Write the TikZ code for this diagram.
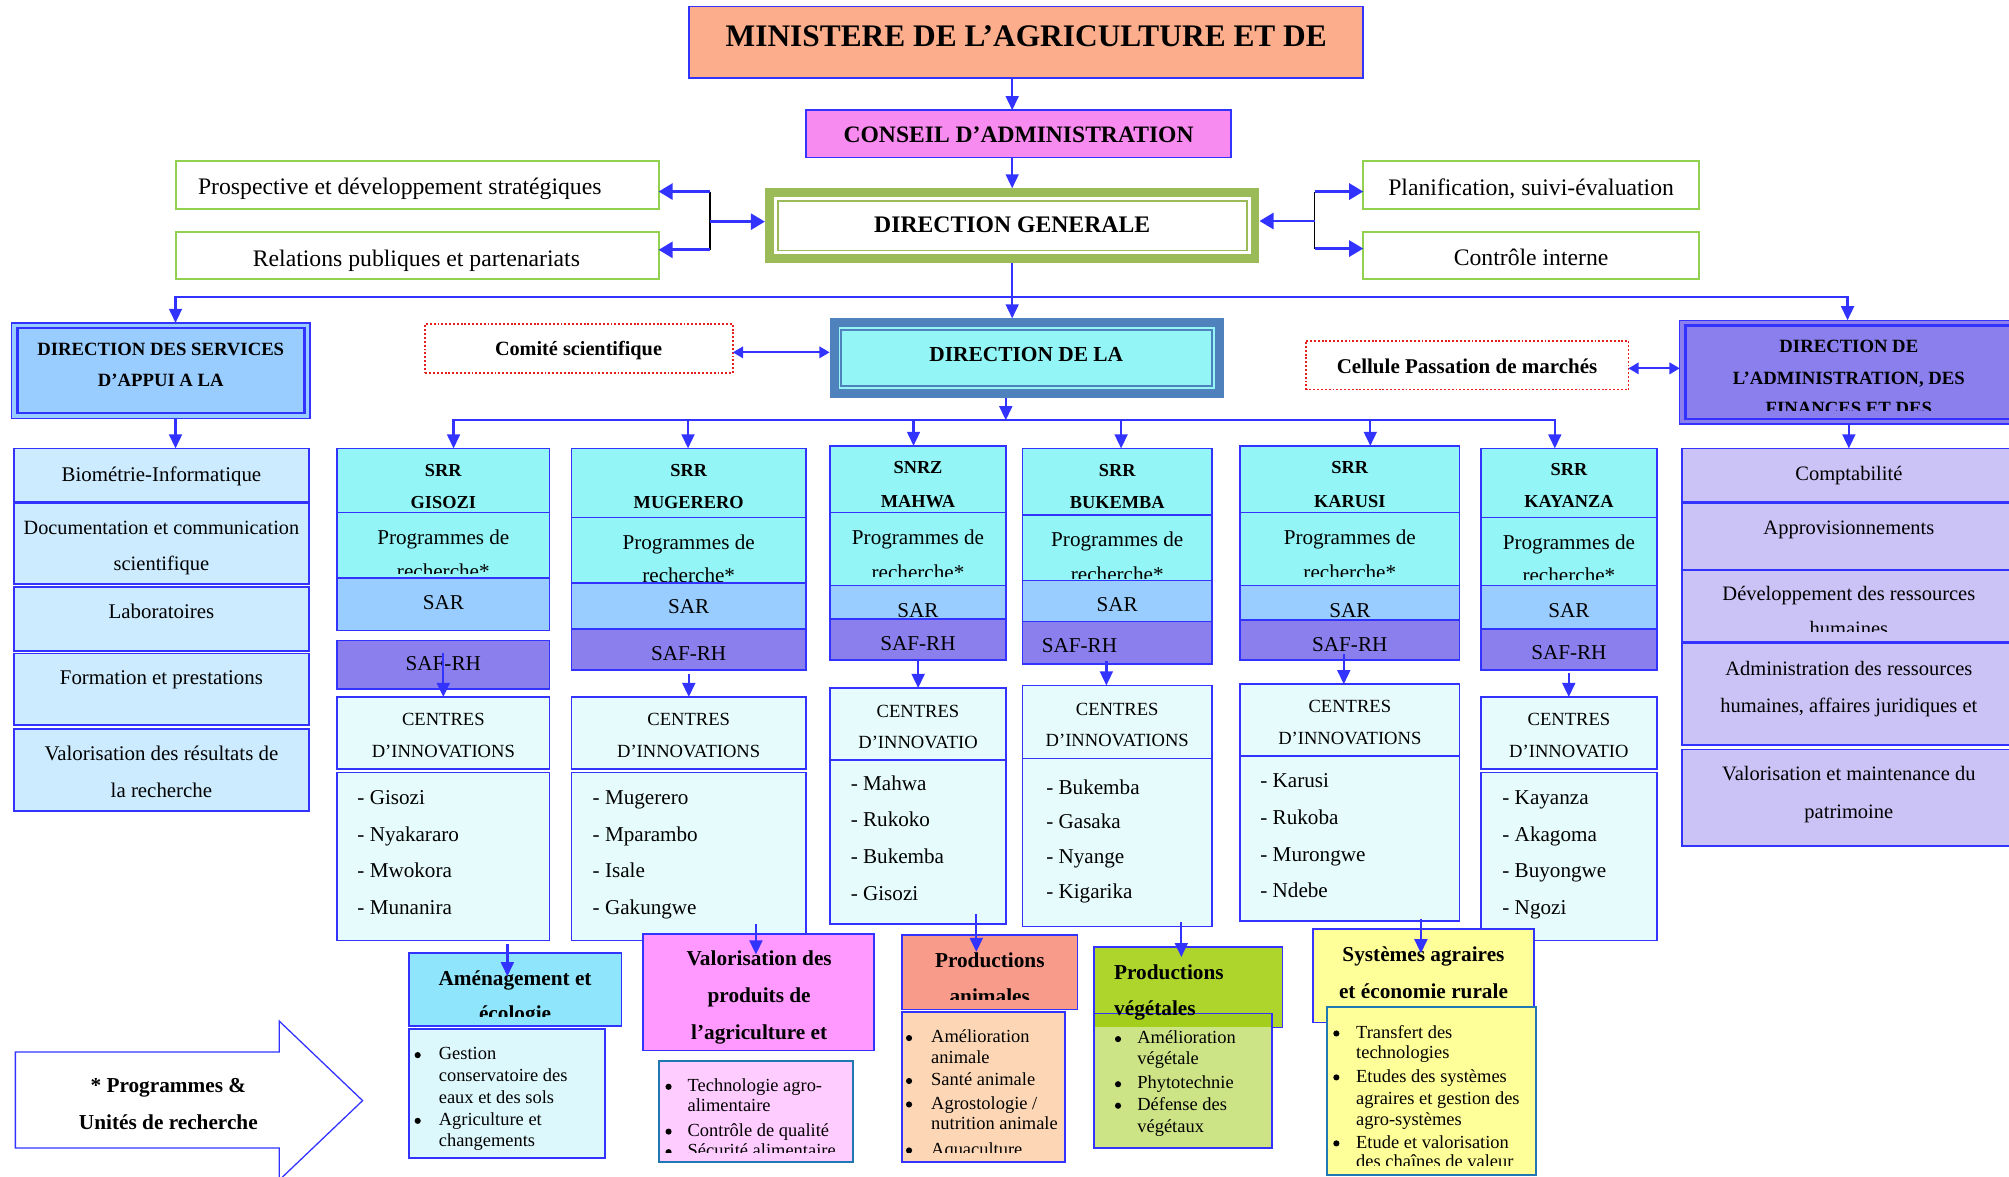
\documentclass[tikz,border=0pt]{standalone}
\usepackage{fontspec}
\setmainfont{Liberation Serif}
\usetikzlibrary{arrows.meta}
\definecolor{bl}{RGB}{51,51,255}
\definecolor{minist}{RGB}{252,174,140}
\definecolor{conseil}{RGB}{248,139,240}
\definecolor{olivec}{RGB}{155,187,89}
\definecolor{lgreen}{RGB}{146,208,80}
\definecolor{dsac}{RGB}{153,204,255}
\definecolor{cyanf}{RGB}{147,245,245}
\definecolor{steel}{RGB}{79,129,189}
\definecolor{purp}{RGB}{139,127,238}
\definecolor{sarc}{RGB}{153,204,255}
\definecolor{centc}{RGB}{230,251,251}
\definecolor{leftc}{RGB}{204,235,255}
\definecolor{dafsub}{RGB}{203,195,245}
\definecolor{amh}{RGB}{143,229,251}
\definecolor{aml}{RGB}{221,248,253}
\definecolor{valh}{RGB}{255,153,255}
\definecolor{vall}{RGB}{255,204,255}
\definecolor{tealb}{RGB}{31,120,180}
\definecolor{pah}{RGB}{249,155,139}
\definecolor{pal}{RGB}{253,215,181}
\definecolor{pvh}{RGB}{173,213,43}
\definecolor{pvl}{RGB}{205,228,134}
\definecolor{pvo}{RGB}{163,206,28}
\definecolor{syc}{RGB}{255,255,153}
\definecolor{redd}{RGB}{230,30,30}
\newcounter{tc}
\newcommand\mybx[6]{\node[inner sep=0pt,outer sep=0pt,#6,minimum width={(#4)-(#2)},minimum height={(#5)-(#3)}] (#1) at ({(#2+#4)/2},{(#3+#5)/2}) {};}
\newcommand\mytx[5][]{\stepcounter{tc}\node[txt,font=\fontsize{#4}{#4}\selectfont,#1] (t\arabic{tc}) at ({#2},{#3+0.34*#4}) {#5};}
\newcommand\mybul[2]{\stepcounter{tc}\node[circle,fill=black,inner sep=0pt,minimum size=4.8pt] (t\arabic{tc}) at ({#1},{#2+1.2}) {};}
\newcommand\mycl[4]{\clip (#1,#2) rectangle (#3,#4);}
\tikzset{
 box/.style={draw=bl,line width=1.3pt},
 sbox/.style={draw=lgreen,line width=1.6pt,fill=white},
 dotbox/.style={draw=redd,line width=1.4pt,dash pattern=on 1.5pt off 1.5pt,fill=white},
 txt/.style={anchor=base,inner sep=0pt,outer sep=0pt},
 arr/.style={draw=bl,line width=1.8pt,-{Triangle[length=11pt,width=10pt]}},
 sarr/.style={draw=bl,line width=2.2pt,-{Triangle[length=11pt,width=12.5pt]}},
 darr/.style={draw=bl,line width=1.6pt,{Triangle[length=8pt,width=9pt]}-{Triangle[length=8pt,width=9pt]}},
 jline/.style={draw=black,line width=1.2pt},
}
\begin{document}
\begin{tikzpicture}[x=1pt,y=-1pt]
\path[use as bounding box] (0,0) rectangle (1568,918);
\clip (0,0) rectangle (1568,918);
\fill[white] (0,0) rectangle (1568,918);

% ---------- top ----------
\mybx{min}{538}{5}{1064}{61}{box,fill=minist}
\mytx{801}{28}{24.5}{\bfseries MINISTERE DE L’AGRICULTURE ET DE}
\mybx{ca}{629}{86}{961}{123}{box,fill=conseil}
\mytx{795}{105}{18.4}{\bfseries CONSEIL D’ADMINISTRATION}
\mybx{dg}{600.5}{150.5}{979.5}{201.5}{draw=olivec,line width=7pt,fill=white,outer sep=3.5pt}
\mybx{dgi}{607}{157}{973}{195.5}{draw=olivec,line width=1.3pt}
\mytx{790}{175.5}{18.5}{\bfseries DIRECTION GENERALE}
\mybx{pro}{137}{126}{514}{163}{sbox}
\mybx{rel}{137}{181}{514}{218}{sbox}
\mybx{pla}{1064}{126}{1326}{163}{sbox}
\mybx{cti}{1064}{181}{1326}{218}{sbox}
\mytx{312}{145.5}{18.5}{Prospective et développement stratégiques}
\mytx{325}{201.5}{18.5}{Relations publiques et partenariats}
\mytx{1195}{146.5}{18.5}{Planification, suivi-évaluation}
\mytx{1195}{201}{18.5}{Contrôle interne}

% ---------- second level ----------
\mybx{dsa}{9}{252}{242}{326.5}{draw=bl,line width=1pt,fill=dsac}
\mybx{dsai}{13.5}{256}{237.5}{322.5}{draw=bl,line width=2pt}
\mytx{125.5}{272.5}{14.6}{\bfseries DIRECTION DES SERVICES}
\mytx{125.5}{297}{14.6}{\bfseries D’APPUI A LA}
\mybx{com}{332}{253}{572}{291}{dotbox}
\mytx{451.5}{272}{15.8}{\bfseries Comité scientifique}
\mybx{dra}{651}{252}{951.5}{307}{draw=steel,line width=7pt,fill=cyanf,outer sep=3.5pt}
\mybx{drai}{656.5}{257.5}{946}{301.5}{draw=steel,line width=1.5pt}
\mytx{801}{276.5}{16.7}{\bfseries DIRECTION DE LA}
\mybx{cel}{1019}{266}{1271}{304}{dotbox}
\mytx{1145}{286}{16.4}{\bfseries Cellule Passation de marchés}
\mybx{daf}{1311}{250}{1590}{331}{draw=bl,line width=1pt,fill=purp}
\mybx{dafi}{1315.5}{254}{1590}{327}{draw=bl,line width=2pt}
\mytx{1443}{270}{14.6}{\bfseries DIRECTION DE}
\mytx{1443}{295}{14.6}{\bfseries L’ADMINISTRATION, DES}
\begin{scope}\mycl{1316}{255}{1568}{320}\mytx{1443}{318.4}{14.6}{\bfseries FINANCES ET DES}\end{scope}

% ---------- left column ----------
\mybx{bio}{11}{350}{241}{392}{box,fill=leftc}
\mybx{doc}{11}{393}{241}{456}{box,fill=leftc}
\mybx{lab}{11}{458}{241}{508}{box,fill=leftc}
\mybx{for}{11}{510}{241}{566}{box,fill=leftc}
\mybx{vlr}{11}{569}{241}{633}{box,fill=leftc}
\mytx{126}{370}{16.3}{Biométrie-Informatique}
\mytx{126}{412}{15.8}{Documentation et communication}
\mytx{126}{440}{16}{scientifique}
\mytx{126}{477.5}{16.3}{Laboratoires}
\mytx{126}{529}{16.3}{Formation et prestations}
\mytx{126}{588}{16.3}{Valorisation des résultats de}
\mytx{126}{616.5}{16.3}{la recherche}

% ---------- DAF column ----------
\mybx{cpt}{1313}{350}{1590}{392}{box,fill=dafsub}
\mybx{app}{1313}{393}{1590}{445}{box,fill=dafsub}
\mybx{dev}{1313}{445}{1590}{501}{box,fill=dafsub}
\mybx{adm}{1313}{502}{1590}{581.5}{box,fill=dafsub}
\mybx{vmp}{1313}{585}{1590}{660.5}{box,fill=dafsub}
\mytx{1443}{369.5}{16}{Comptabilité}
\mytx{1443}{412}{16}{Approvisionnements}
\mytx{1443}{463.3}{16}{Développement des ressources}
\begin{scope}\mycl{1314}{446}{1568}{492.5}\mytx{1443}{490.3}{16}{humaines}\end{scope}
\mytx{1443}{522}{16}{Administration des ressources}
\mytx{1443}{550.7}{16}{humaines, affaires juridiques et}
\mytx{1443}{604}{16}{Valorisation et maintenance du}
\mytx{1443}{633}{16}{patrimoine}

% ---------- SRR GISOZI ----------
\mybx{gish}{263}{350}{429}{400}{box,fill=cyanf}
\mybx{gisp}{263}{400}{429}{451}{box,fill=cyanf}
\begin{scope}\mycl{264}{401}{428}{447.6}\mytx{346}{446.2}{16.5}{recherche*}\end{scope}
\mybx{giss}{263}{451}{429}{492}{box,fill=sarc}
\mybx{gisf}{263}{500}{429}{538}{box,fill=purp}
\mybx{gisc}{263}{544}{429}{600}{box,fill=centc}
\mybx{gisl}{263}{603}{429}{734}{box,fill=centc}
\mytx{346}{367}{14.3}{\bfseries SRR}
\mytx{346}{392}{14.3}{\bfseries GISOZI}
\mytx{346}{419}{16.5}{Programmes de}
\mytx{346}{470}{16.5}{SAR}
\mytx{346}{518}{16.5}{SAF-RH}
\mytx{346}{561}{14.5}{CENTRES}
\mytx{346}{586}{14.5}{D’INNOVATIONS}
\mytx[anchor=base west]{279}{622}{16.5}{- Gisozi}
\mytx[anchor=base west]{279}{651}{16.5}{- Nyakararo}
\mytx[anchor=base west]{279}{679}{16.5}{- Mwokora}
\mytx[anchor=base west]{279}{708}{16.5}{- Munanira}

% ---------- SRR MUGERERO ----------
\mybx{mugh}{446}{350}{629}{404}{box,fill=cyanf}
\mybx{mugp}{446}{404}{629}{455}{box,fill=cyanf}
\begin{scope}\mycl{447}{405}{628}{453.5}\mytx{537.5}{449.4}{16.5}{recherche*}\end{scope}
\mybx{mugs}{446}{455}{629}{491}{box,fill=sarc}
\mybx{mugf}{446}{491}{629}{523}{box,fill=purp}
\mybx{mugc}{446}{544}{629}{600}{box,fill=centc}
\mybx{mugl}{446}{603}{629}{734}{box,fill=centc}
\mytx{537.5}{367}{14.3}{\bfseries SRR}
\mytx{537.5}{392}{14.3}{\bfseries MUGERERO}
\mytx{537.5}{423}{16.5}{Programmes de}
\mytx{537.5}{473.6}{16.5}{SAR}
\mytx{537.5}{510}{16.5}{SAF-RH}
\mytx{537.5}{561}{14.5}{CENTRES}
\mytx{537.5}{586}{14.5}{D’INNOVATIONS}
\mytx[anchor=base west]{462.6}{622}{16.5}{- Mugerero}
\mytx[anchor=base west]{462.6}{651}{16.5}{- Mparambo}
\mytx[anchor=base west]{462.6}{679}{16.5}{- Isale}
\mytx[anchor=base west]{462.6}{708}{16.5}{- Gakungwe}

% ---------- SNRZ MAHWA ----------
\mybx{mahh}{648}{348}{785}{400}{box,fill=cyanf}
\mybx{mahp}{648}{400}{785}{457}{box,fill=cyanf}
\begin{scope}\mycl{649}{401}{784}{450}\mytx{716.5}{446.8}{16.5}{recherche*}\end{scope}
\mybx{mahs}{648}{457}{785}{483}{box,fill=sarc}
\mybx{mahf}{648}{483}{785}{515}{box,fill=purp}
\mybx{mahc}{648}{537}{785}{593}{box,fill=centc}
\mybx{mahl}{648}{593}{785}{721}{box,fill=centc}
\mytx{716.5}{365}{14.3}{\bfseries SNRZ}
\mytx{716.5}{391}{14.3}{\bfseries MAHWA}
\mytx{716.5}{419}{16.5}{Programmes de}
\mytx{716.5}{476}{16.5}{SAR}
\mytx{716.5}{502}{16.5}{SAF-RH}
\mytx{716.5}{555}{14.5}{CENTRES}
\mytx{716.5}{579}{14.5}{D’INNOVATIO}
\mytx[anchor=base west]{664}{611}{16.5}{- Mahwa}
\mytx[anchor=base west]{664}{639.6}{16.5}{- Rukoko}
\mytx[anchor=base west]{664}{668.7}{16.5}{- Bukemba}
\mytx[anchor=base west]{664}{697}{16.5}{- Gisozi}

% ---------- SRR BUKEMBA ----------
\mybx{bukh}{798}{350}{946}{402}{box,fill=cyanf}
\mybx{bukp}{798}{402}{946}{453}{box,fill=cyanf}
\begin{scope}\mycl{799}{403}{945}{451.5}\mytx{872}{448.1}{16.5}{recherche*}\end{scope}
\mybx{buks}{798}{453}{946}{485}{box,fill=sarc}
\mybx{bukf}{798}{485}{946}{518}{box,fill=purp}
\mybx{bukc}{798}{535}{946}{592}{box,fill=centc}
\mybx{bukl}{798}{592}{946}{723}{box,fill=centc}
\mytx{872}{367.4}{14.3}{\bfseries SRR}
\mytx{872}{392.4}{14.3}{\bfseries BUKEMBA}
\mytx{872}{421}{16.5}{Programmes de}
\mytx{872}{472}{16.5}{SAR}
\mytx{842.5}{503.5}{16.5}{SAF-RH}
\mytx{872}{553.5}{14.5}{CENTRES}
\mytx{872}{578}{14.5}{D’INNOVATIONS}
\mytx[anchor=base west]{816.6}{614.5}{16.5}{- Bukemba}
\mytx[anchor=base west]{816.6}{641.4}{16.5}{- Gasaka}
\mytx[anchor=base west]{816.6}{668.7}{16.5}{- Nyange}
\mytx[anchor=base west]{816.6}{696}{16.5}{- Kigarika}

% ---------- SRR KARUSI ----------
\mybx{karh}{968}{348}{1139}{400}{box,fill=cyanf}
\mybx{karp}{968}{400}{1139}{457}{box,fill=cyanf}
\begin{scope}\mycl{969}{401}{1138}{450}\mytx{1053.5}{446.8}{16.5}{recherche*}\end{scope}
\mybx{kars}{968}{457}{1139}{484}{box,fill=sarc}
\mybx{karf}{968}{484}{1139}{515}{box,fill=purp}
\mybx{karc}{968}{534}{1139}{590}{box,fill=centc}
\mybx{karl}{968}{590}{1139}{719}{box,fill=centc}
\mytx{1053.5}{365}{14.3}{\bfseries SRR}
\mytx{1053.5}{391}{14.3}{\bfseries KARUSI}
\mytx{1053.5}{419}{16.5}{Programmes de}
\mytx{1053.5}{476}{16.5}{SAR}
\mytx{1053.5}{502.5}{16.5}{SAF-RH}
\mytx{1053.5}{551}{14.5}{CENTRES}
\mytx{1053.5}{576}{14.5}{D’INNOVATIONS}
\mytx[anchor=base west]{983.7}{609}{16.5}{- Karusi}
\mytx[anchor=base west]{983.7}{638}{16.5}{- Rukoba}
\mytx[anchor=base west]{983.7}{666.7}{16.5}{- Murongwe}
\mytx[anchor=base west]{983.7}{695}{16.5}{- Ndebe}

% ---------- SRR KAYANZA ----------
\mybx{kayh}{1156}{350}{1293}{404}{box,fill=cyanf}
\mybx{kayp}{1156}{404}{1293}{457}{box,fill=cyanf}
\begin{scope}\mycl{1157}{405}{1292}{452.5}\mytx{1224.5}{449.4}{16.5}{recherche*}\end{scope}
\mybx{kays}{1156}{457}{1293}{491}{box,fill=sarc}
\mybx{kayf}{1156}{491}{1293}{523}{box,fill=purp}
\mybx{kayc}{1156}{544}{1293}{600}{box,fill=centc}
\mybx{kayl}{1156}{603}{1293}{734}{box,fill=centc}
\mytx{1224.5}{366}{14.3}{\bfseries SRR}
\mytx{1224.5}{391.6}{14.3}{\bfseries KAYANZA}
\mytx{1224.5}{423}{16.5}{Programmes de}
\mytx{1224.5}{476}{16.5}{SAR}
\mytx{1224.5}{509.5}{16.5}{SAF-RH}
\mytx{1224.5}{561}{14.5}{CENTRES}
\mytx{1224.5}{586}{14.5}{D’INNOVATIO}
\mytx[anchor=base west]{1172.6}{622}{16.5}{- Kayanza}
\mytx[anchor=base west]{1172.6}{651}{16.5}{- Akagoma}
\mytx[anchor=base west]{1172.6}{679}{16.5}{- Buyongwe}
\mytx[anchor=base west]{1172.6}{708}{16.5}{- Ngozi}

% ---------- programmes ----------
% Amenagement
\mybx{amhd}{319}{744}{485}{801}{box,fill=amh}
\mytx{402}{763.7}{16.6}{\bfseries Aménagement et}
\begin{scope}\mycl{320}{745}{484}{793}\mytx{402}{790.9}{16.6}{\bfseries écologie}\end{scope}
\mybx{amls}{319}{803}{472}{904}{box,fill=aml}
\mybul{326}{822.3}
\mytx[anchor=base west]{342.5}{822.3}{14.4}{Gestion}
\mytx[anchor=base west]{342.5}{839}{14.4}{conservatoire des}
\mytx[anchor=base west]{342.5}{856}{14.4}{eaux et des sols}
\mybul{326}{873.6}
\mytx[anchor=base west]{342.5}{873.6}{14.4}{Agriculture et}
\mytx[anchor=base west]{342.5}{890}{14.4}{changements}

% Valorisation
\mybx{vahd}{502}{729}{682}{820}{box,fill=valh}
\mytx{592.5}{748}{16.6}{\bfseries Valorisation des}
\mytx{592.5}{776.7}{16.6}{\bfseries produits de}
\mytx{592.5}{805.4}{16.6}{\bfseries l’agriculture et}
\mybx{vals}{514}{828}{666}{907}{draw=tealb,line width=1.5pt,fill=vall}
\begin{scope}\mycl{515}{829}{665}{899.6}
\mybul{521.8}{847}
\mytx[anchor=base west]{536.7}{847}{14.4}{Technologie agro-}
\mytx[anchor=base west]{536.7}{862.6}{14.4}{alimentaire}
\mybul{521.8}{882}
\mytx[anchor=base west]{536.7}{882}{14.4}{Contrôle de qualité}
\mybul{521.8}{898}
\mytx[anchor=base west]{536.7}{898}{14.4}{Sécurité alimentaire}
\end{scope}

% Productions animales
\mybx{pahd}{704}{730}{841}{788}{box,fill=pah}
\mytx{772.5}{749.4}{16.6}{\bfseries Productions}
\begin{scope}\mycl{705}{731}{840}{780}\mytx{772.5}{777.3}{16.6}{\bfseries animales}\end{scope}
\mybx{pals}{704}{790}{831}{907}{box,fill=pal}
\begin{scope}\mycl{705}{791}{830}{899.5}
\mybul{709.5}{809}
\mytx[anchor=base west]{726.8}{809}{14.4}{Amélioration}
\mytx[anchor=base west]{726.8}{825}{14.4}{animale}
\mybul{709.5}{842.5}
\mytx[anchor=base west]{726.8}{842.5}{14.4}{Santé animale}
\mybul{709.5}{860.8}
\mytx[anchor=base west]{726.8}{860.8}{14.4}{Agrostologie /}
\mytx[anchor=base west]{726.8}{877}{14.4}{nutrition animale}
\mybul{709.5}{896.7}
\mytx[anchor=base west]{726.8}{896.7}{14.4}{Aquaculture}
\end{scope}

% Productions vegetales
\mybx{pvhd}{854}{739}{1001}{802}{box,fill=pvh}
\mybx{pvls}{854}{791}{993}{896}{box,fill=pvl}
\fill[pvo] (854.7,791.7) rectangle (992.3,801.3);
\draw[bl,line width=1.3pt] (854,791) -- (993,791);
\draw[bl,line width=1.3pt] (993,802) -- (1001,802);
\mytx[anchor=base west]{869.6}{758.5}{16.6}{\bfseries Productions}
\mytx[anchor=base west]{869.6}{787}{16.6}{\bfseries végétales}
\mybul{872.6}{809.8}
\mytx[anchor=base west]{887.7}{809.8}{14.4}{Amélioration}
\mytx[anchor=base west]{887.7}{826}{14.4}{végétale}
\mybul{872.6}{845}
\mytx[anchor=base west]{887.7}{845}{14.4}{Phytotechnie}
\mybul{872.6}{861.8}
\mytx[anchor=base west]{887.7}{861.8}{14.4}{Défense des}
\mytx[anchor=base west]{887.7}{878.7}{14.4}{végétaux}

% Systemes agraires
\mybx{syhd}{1025}{725}{1197}{798}{box,fill=syc}
\mytx{1111}{744.7}{16.6}{\bfseries Systèmes agraires}
\mytx{1111}{773.4}{16.6}{\bfseries et économie rurale}
\mybx{syls}{1036}{786}{1199}{917}{draw=tealb,line width=1.5pt,fill=syc}
\begin{scope}\mycl{1037}{787}{1198}{909.5}
\mybul{1043}{805.4}
\mytx[anchor=base west]{1058.5}{805.4}{14.4}{Transfert des}
\mytx[anchor=base west]{1058.5}{821.5}{14.4}{technologies}
\mybul{1043}{839.7}
\mytx[anchor=base west]{1058.5}{839.7}{14.4}{Etudes des systèmes}
\mytx[anchor=base west]{1058.5}{857}{14.4}{agraires et gestion des}
\mytx[anchor=base west]{1058.5}{873.6}{14.4}{agro-systèmes}
\mybul{1043}{891.2}
\mytx[anchor=base west]{1058.5}{891.2}{14.4}{Etude et valorisation}
\mytx[anchor=base west]{1058.5}{906.6}{14.4}{des chaînes de valeur}
\end{scope}

% big arrow
\draw[draw=bl,line width=1pt,fill=white,line join=miter] (12,821) -- (218,821) -- (218,797) -- (283,859) -- (218,921) -- (218,896) -- (12,896) -- cycle;
\mytx{131.4}{847}{16.6}{\bfseries * Programmes \&}
\mytx{131.4}{875.6}{16.6}{\bfseries Unités de recherche}

% ---------- connectors ----------
\coordinate (x790) at (790,0);
\draw[arr] (min.south -| x790) -- (ca.north -| x790);
\draw[arr] (ca.south -| x790) -- (dg.north -| x790);

\coordinate (lj1) at (554,149.5);
\coordinate (lj2) at (554,195);
\coordinate (lj3) at (554,173);
\draw[jline] (lj1) -- (lj2);
\draw[sarr] (lj1) -- (lj1 -| pro.east);
\draw[sarr] (lj2) -- (lj2 -| rel.east);
\draw[sarr] (lj3) -- (lj3 -| dg.west);
\coordinate (rj1) at (1026,149.5);
\coordinate (rj2) at (1026,194);
\coordinate (rj3) at (1026,172.5);
\draw[jline] (rj1) -- (rj2);
\draw[sarr] (rj1) -- (rj1 -| pla.west);
\draw[sarr] (rj2) -- (rj2 -| cti.west);
\draw[sarr] (rj3) -- (rj3 -| dg.east);

\coordinate (b1) at (790,232);
\coordinate (b1l) at (137,232);
\coordinate (b1r) at (1442,232);
\draw[arr] (dg.south -| b1) -- (b1 |- dra.north);
\draw[arr] (b1) -| (b1l |- dsa.north);
\draw[arr] (b1) -| (b1r |- daf.north);

\draw[arr] (dsa.south -| b1l) -- (bio.north -| b1l);
\coordinate (x1443) at (1443,0);
\draw[arr] (daf.south -| x1443) -- (cpt.north -| x1443);

\coordinate (ca1) at (572,275);
\draw[darr] (com.east |- ca1) -- (dra.west |- ca1);
\coordinate (ce1) at (1271,287.5);
\draw[darr] (cel.east |- ce1) -- (daf.west |- ce1);

\coordinate (b2) at (785,328);
\coordinate (c1) at (354,328);
\coordinate (c2) at (537,328);
\coordinate (c3) at (713,328);
\coordinate (c4) at (875,328);
\coordinate (c5) at (1069.5,328);
\coordinate (c6) at (1213.5,328);
\draw[arr] (dra.south -| b2) -- (b2);
\draw[arr] (b2) -| (c1 |- gish.north);
\draw[arr] (b2) -| (c6 |- kayh.north);
\draw[arr] (c2) -- (c2 |- mugh.north);
\draw[arr] (c3) -- (c3 |- mahh.north);
\draw[arr] (c4) -- (c4 |- bukh.north);
\draw[arr] (c5) -- (c5 |- karh.north);

\coordinate (g1) at (346,510);
\draw[arr] (g1) -- (g1 |- gisc.north);
\coordinate (g2) at (537.6,526);
\draw[arr] (g2) -- (g2 |- mugc.north);
\coordinate (g3) at (716.6,515);
\draw[arr] (g3) -- (g3 |- mahc.north);
\coordinate (g4) at (863.5,516);
\draw[arr] (g4) -- (g4 |- bukc.north);
\coordinate (g5) at (1048.8,510.6);
\draw[arr] (g5) -- (g5 |- karc.north);
\coordinate (g6) at (1224.4,525);
\draw[arr] (g6) -- (g6 |- kayc.north);

\coordinate (p1a) at (396,737);
\coordinate (p1b) at (396,762);
\draw[arr] (p1a) -- (p1b);
\coordinate (p2a) at (590,721);
\coordinate (p2b) at (590,745);
\draw[arr] (p2a) -- (p2b);
\coordinate (p3a) at (762,713);
\coordinate (p3b) at (762,743);
\draw[arr] (p3a) -- (p3b);
\coordinate (p4a) at (922,719.5);
\coordinate (p4b) at (922,747);
\draw[arr] (p4a) -- (p4b);
\coordinate (p5a) at (1109,717);
\coordinate (p5b) at (1109,744);
\draw[arr] (p5a) -- (p5b);
\end{tikzpicture}
\end{document}
